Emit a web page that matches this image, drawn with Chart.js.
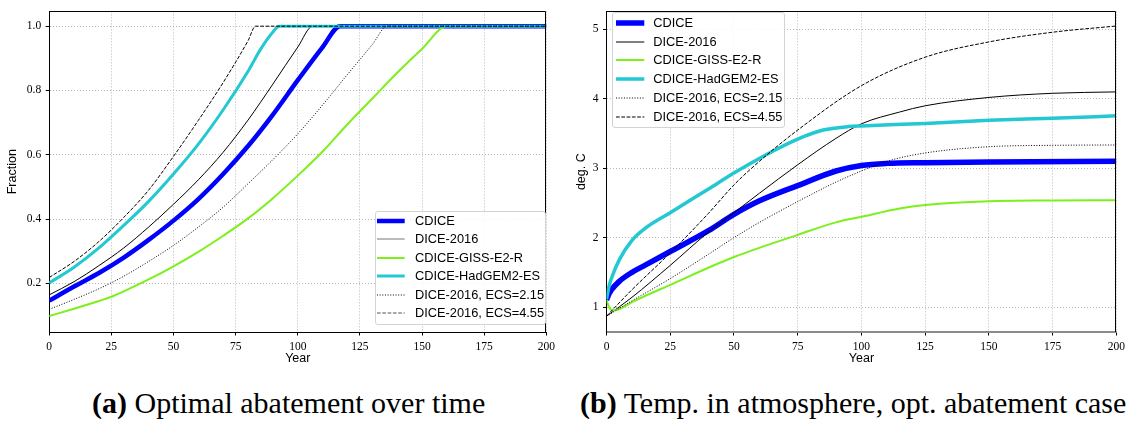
<!DOCTYPE html>
<html>
<head>
<meta charset="utf-8">
<script src="https://cdn.jsdelivr.net/npm/chart.js@4.4.1/dist/chart.umd.min.js"></script>
<style>
  body { margin: 0; background: #fff; }
  #wrap { position: relative; width: 1130px; height: 421px; overflow: hidden; }
  .box { position: absolute; top: 0; }
  .legend { position: absolute; background: rgba(255,255,255,0.85); border: 1px solid #d3d3d3; border-radius: 3px;
            box-sizing: border-box; font: 12.8px "Liberation Sans", Arial, sans-serif; color: #000; }
  .row { position: absolute; left: 0; height: 18px; width: 100%; white-space: nowrap; }
  .row svg { position: absolute; top: 0; }
  .row span { position: absolute; top: 0; line-height: 18px; }
  .caption { position: absolute; top: 388px; font: 30px/30px "Liberation Serif", serif; white-space: nowrap; color: #000; }
</style>
</head>
<body>
<div id="wrap">
  <div class="box" style="left:0;width:560px;height:372px"><canvas id="chartA" width="560" height="372"></canvas></div>
  <div class="box" style="left:560px;width:570px;height:372px"><canvas id="chartB" width="570" height="372"></canvas></div>
  <div class="legend" id="legA" style="left:375px;top:211px;width:171px;height:114px"></div>
  <div class="legend" id="legB" style="left:612px;top:12px;width:173px;height:116px"></div>
  <div class="caption" style="left:92px"><b>(a)</b> Optimal abatement over time</div>
  <div class="caption" style="left:580px"><b>(b)</b> Temp. in atmosphere, opt. abatement case</div>
</div>
<script>
const seriesNames = ['CDICE', 'DICE-2016', 'CDICE-GISS-E2-R', 'CDICE-HadGEM2-ES', 'DICE-2016, ECS=2.15', 'DICE-2016, ECS=4.55'];
const xTicks = [0, 25, 50, 75, 100, 125, 150, 175, 200];
const yTicksA = [0.2, 0.4, 0.6, 0.8, 1.0];
const yTicksB = [1, 2, 3, 4, 5];

// (a) optimal abatement (fraction)
const cdiceAYears = [0, 10, 20, 30, 40, 50, 60, 70, 80, 90, 100, 110, 117, 200];
const cdiceA = [0.146, 0.19, 0.232, 0.28, 0.335, 0.395, 0.462, 0.54, 0.627, 0.725, 0.832, 0.935, 1.0, 1.0];
const diceAYears = [0, 10, 20, 30, 40, 50, 60, 70, 80, 90, 100, 106, 200];
const diceA = [0.164, 0.205, 0.255, 0.31, 0.375, 0.446, 0.522, 0.608, 0.708, 0.82, 0.935, 1.0, 1.0];
const gissAYears = [0, 10, 20, 25, 30, 40, 50, 60, 70, 80, 90, 100, 110, 120, 130, 140, 150, 160, 200];
const gissA = [0.098, 0.121, 0.145, 0.158, 0.175, 0.212, 0.253, 0.298, 0.348, 0.402, 0.465, 0.535, 0.61, 0.695, 0.775, 0.855, 0.93, 1.0, 1.0];
const hadgemAYears = [0, 10, 20, 30, 40, 50, 60, 70, 80, 85, 90, 92.5, 200];
const hadgemA = [0.201, 0.25, 0.31, 0.38, 0.455, 0.54, 0.633, 0.74, 0.86, 0.928, 0.982, 1.0, 1.0];
const ecs215AYears = [0, 10, 20, 30, 40, 50, 60, 70, 80, 90, 100, 110, 120, 130, 136, 200];
const ecs215A = [0.119, 0.15, 0.183, 0.222, 0.268, 0.318, 0.375, 0.437, 0.51, 0.585, 0.665, 0.755, 0.85, 0.943, 1.0, 1.0];
const ecs455AYears = [0, 10, 20, 30, 40, 50, 60, 70, 80, 83, 200];
const ecs455A = [0.218, 0.268, 0.33, 0.405, 0.49, 0.595, 0.707, 0.825, 0.955, 1.0, 1.0];

// (b) atmospheric temperature (deg. C)
const cdiceBYears = [0, 1, 2, 5, 10, 15, 25, 40, 50, 60, 75, 90, 100, 110, 125, 150, 200];
const cdiceB = [1.1, 1.19, 1.25, 1.37, 1.5, 1.6, 1.8, 2.1, 2.335, 2.53, 2.75, 2.96, 3.04, 3.07, 3.08, 3.09, 3.1];
const diceBYears = [0, 10, 25, 40, 50, 60, 75, 90, 100, 115, 125, 150, 175, 200];
const diceB = [0.868, 1.14, 1.6, 2.08, 2.36, 2.64, 3.05, 3.43, 3.64, 3.81, 3.9, 4.02, 4.08, 4.1];
const gissBYears = [0, 1, 2.5, 5, 10, 25, 50, 75, 90, 100, 115, 125, 150, 175, 200];
const gissB = [1.1, 1.0, 0.95, 0.97, 1.07, 1.32, 1.72, 2.04, 2.22, 2.3, 2.42, 2.47, 2.525, 2.535, 2.54];
const hadgemBYears = [0, 1, 2, 5, 10, 15, 25, 40, 50, 65, 75, 85, 95, 100, 125, 150, 175, 200];
const hadgemB = [1.11, 1.3, 1.42, 1.68, 1.96, 2.13, 2.36, 2.7, 2.93, 3.24, 3.42, 3.55, 3.6, 3.61, 3.645, 3.69, 3.72, 3.755];
const ecs215BYears = [0, 10, 25, 40, 50, 60, 75, 90, 100, 110, 125, 150, 175, 200];
const ecs215B = [0.868, 1.09, 1.41, 1.76, 2.0, 2.22, 2.52, 2.8, 2.96, 3.1, 3.22, 3.31, 3.33, 3.335];
const ecs455BYears = [0, 10, 25, 40, 50, 60, 75, 100, 125, 150, 175, 200];
const ecs455B = [0.868, 1.25, 1.78, 2.35, 2.76, 3.1, 3.55, 4.19, 4.6, 4.82, 4.96, 5.05];

const colors = ['#0000ff', '#000000', '#7cf01c', '#22c8d2', '#000000', '#000000'];
const dashes = [[], [], [], [], [1, 1.65], [3.7, 1.6]];
const widthsA = [4.5, 1, 2, 3, 1, 1];
const widthsB = [5.5, 1, 2, 3.5, 1, 1];
const legendColorsA = ['#0000ff', '#777777', '#7cf01c', '#22c8d2', '#000000', '#555555'];

const pairs = (xs, ys) => xs.map((x, i) => ({ x: x, y: ys[i] }));

function makeDatasets(series, widths) {
  return series.map((s, i) => ({
    label: seriesNames[i],
    data: pairs(s[0], s[1]),
    borderColor: colors[i],
    borderWidth: widths[i],
    borderDash: dashes[i],
    pointRadius: 0,
    fill: false,
    cubicInterpolationMode: 'monotone',
    order: series.length - i   // later series drawn on top, like matplotlib
  }));
}

// draws the top and right spines of the box
const framePlugin = {
  id: 'frame',
  afterDraw(chart) {
    const { ctx, chartArea: a } = chart;
    const t = Math.round(a.top) + 0.5, r = Math.round(a.right) - 0.5;
    ctx.save();
    ctx.strokeStyle = '#000';
    ctx.lineWidth = 1;
    ctx.beginPath();
    ctx.moveTo(Math.round(a.left), t);
    ctx.lineTo(r, t);
    ctx.lineTo(r, Math.round(a.bottom));
    ctx.stroke();
    ctx.restore();
  }
};

const tickFont = { family: '"Liberation Serif", serif', size: 11.5 };
const titleFont = { family: '"Liberation Sans", Arial, sans-serif', size: 12.5 };

function makeOptions(cfg) {
  return {
    responsive: false,
    animation: false,
    layout: { padding: { left: 0, right: cfg.padRight, top: cfg.padTop, bottom: 0 } },
    plugins: { legend: { display: false }, tooltip: { enabled: false } },
    scales: {
      x: {
        type: 'linear', min: 0, max: 200,
        afterBuildTicks: s => { s.ticks = xTicks.map(v => ({ value: v })); },
        afterFit: s => { s.height = 40; },
        ticks: { font: tickFont, color: '#000', padding: 5, maxRotation: 0 },
        grid: { color: '#b8b8b8', tickColor: '#000', tickLength: 3.5, tickBorderDash: [] },
        border: { color: cfg.xBorderColor, width: cfg.xBorderWidth, dash: [1, 2] },
        title: { display: true, text: 'Year', font: titleFont, color: '#000', padding: { top: 0, bottom: 5.5 } }
      },
      y: {
        type: 'linear', min: cfg.yMin, max: cfg.yMax,
        afterBuildTicks: s => { s.ticks = cfg.yTicks.map(v => ({ value: v })); },
        afterFit: s => { s.width = cfg.yWidth; },
        ticks: { font: tickFont, color: '#000', padding: 4.5, callback: cfg.fmt },
        grid: { color: '#b8b8b8', tickColor: '#000', tickLength: 3.5, tickBorderDash: [] },
        border: { color: '#000', width: 1, dash: [1, 2] },
        title: { display: true, text: cfg.yTitle, font: titleFont, color: '#000', padding: { top: cfg.yTitlePad, bottom: 0 } }
      }
    }
  };
}

new Chart(document.getElementById('chartA'), {
  type: 'line',
  data: { datasets: makeDatasets([
    [cdiceAYears, cdiceA], [diceAYears, diceA], [gissAYears, gissA],
    [hadgemAYears, hadgemA], [ecs215AYears, ecs215A], [ecs455AYears, ecs455A]
  ], widthsA) },
  options: makeOptions({
    padRight: 10.8, padTop: 9.3, yWidth: 49.2, yMin: 0.0485, yMax: 1.046, yTicks: yTicksA,
    fmt: v => Number(v).toFixed(1), yTitle: 'Fraction', yTitlePad: 5.5,
    xBorderColor: '#000', xBorderWidth: 1
  }),
  plugins: [framePlugin]
});

new Chart(document.getElementById('chartB'), {
  type: 'line',
  data: { datasets: makeDatasets([
    [cdiceBYears, cdiceB], [diceBYears, diceB], [gissBYears, gissB],
    [hadgemBYears, hadgemB], [ecs215BYears, ecs215B], [ecs455BYears, ecs455B]
  ], widthsB) },
  options: makeOptions({
    padRight: 11.5, padTop: 5.7, yWidth: 46.5, yMin: 0.64, yMax: 5.26, yTicks: yTicksB,
    fmt: v => String(v), yTitle: 'deg. C', yTitlePad: 14.5,
    xBorderColor: '#8a8a8a', xBorderWidth: 2
  }),
  plugins: [framePlugin]
});

// legends placed inside the axes, like matplotlib's loc='lower right' / 'upper left'
function buildLegend(id, lineColors, widths, rowTop, rowStep, sampleLeft, sampleLen, textLeft) {
  const el = document.getElementById(id);
  seriesNames.forEach((name, i) => {
    const row = document.createElement('div');
    row.className = 'row';
    row.style.top = (rowTop + i * rowStep) + 'px';
    row.innerHTML =
      '<svg width="' + (sampleLen + 2) + '" height="18" style="left:' + sampleLeft + 'px">' +
      '<line x1="0" y1="9" x2="' + sampleLen + '" y2="9" stroke="' + lineColors[i] + '" stroke-width="' + widths[i] +
      '" stroke-dasharray="' + (dashes[i].length ? dashes[i].join(' ') : 'none') + '"/></svg>' +
      '<span style="left:' + textLeft + 'px">' + name + '</span>';
    el.appendChild(row);
  });
}
buildLegend('legA', legendColorsA, widthsA, 0, 18.46, 1.3, 27.7, 39);
buildLegend('legB', colors, widthsB, 0.7, 18.8, 3, 28.3, 40.3);
</script>
</body>
</html>
